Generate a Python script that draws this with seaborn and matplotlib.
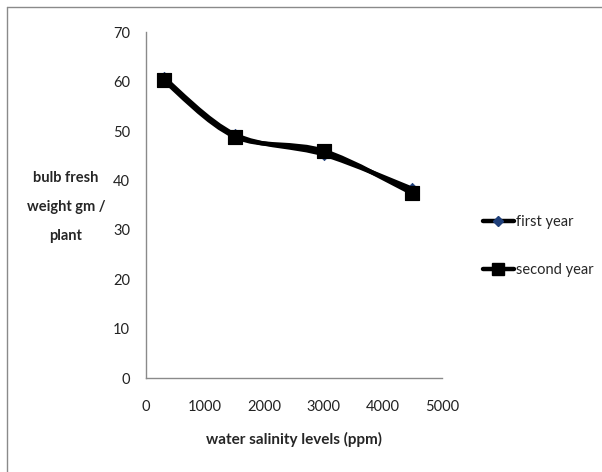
import numpy as np
import pandas as pd
import matplotlib
matplotlib.use("Agg")
import matplotlib.pyplot as plt
from matplotlib.path import Path
from matplotlib.patches import PathPatch
from matplotlib.lines import Line2D
import seaborn as sns

# ---- data ----
salinity = [300, 1500, 3000, 4500]
first_year = [60.8, 49.3, 45.3, 38.3]
second_year = [60.3, 48.9, 46.0, 37.4]
series_names = ["first year", "second year"]
x_ticks = [0, 1000, 2000, 3000, 4000, 5000]
y_ticks = [0, 10, 20, 30, 40, 50, 60, 70]

df = pd.DataFrame({
    "salinity": salinity * 2,
    "weight": first_year + second_year,
    "series": [series_names[0]] * len(salinity) + [series_names[1]] * len(salinity),
})

sns.set_style("white")
plt.rcParams["font.family"] = ["Lato", "DejaVu Sans"]

fig = plt.figure(figsize=(6.02, 4.72), dpi=100)
ax = fig.add_axes([146 / 602, 1 - 378 / 472, 296 / 602, (378 - 32.4) / 472])


def smooth_path(xs, ys):
    pts = np.column_stack([xs, ys]).astype(float)
    n = len(pts)
    verts = [pts[0]]
    codes = [Path.MOVETO]
    for i in range(n - 1):
        p0 = pts[i - 1] if i > 0 else pts[i]
        p1 = pts[i]
        p2 = pts[i + 1]
        p3 = pts[i + 2] if i + 2 < n else pts[i + 1]
        c1 = p1 + (p2 - p0) / 6.0
        c2 = p2 - (p3 - p1) / 6.0
        verts += [c1, c2, p2]
        codes += [Path.CURVE4] * 3
    return Path(verts, codes)


for name in series_names:
    sub = df[df["series"] == name]
    ax.add_patch(PathPatch(smooth_path(sub["salinity"].values, sub["weight"].values),
                           fill=False, edgecolor="black", lw=3.2, capstyle="round",
                           joinstyle="round", zorder=2))

sns.scatterplot(data=df[df["series"] == series_names[0]], x="salinity", y="weight",
                marker="D", s=40, color="#1f3f7a", edgecolor="#1f3f7a", ax=ax, zorder=3,
                legend=False)
sns.scatterplot(data=df[df["series"] == series_names[1]], x="salinity", y="weight",
                marker="s", s=110, color="black", edgecolor="black", ax=ax, zorder=4,
                legend=False)

ax.set_xlim(0, 5000)
ax.set_ylim(0, 70)
ax.set_xticks(x_ticks)
ax.set_yticks(y_ticks)
ax.tick_params(axis="both", direction="out", length=4.5, width=1, color="#8a8a8a",
               labelsize=10.5, labelcolor="#222222", pad=7)
ax.tick_params(axis="x", pad=11)
for s in ["top", "right"]:
    ax.spines[s].set_visible(False)
for s in ["left", "bottom"]:
    ax.spines[s].set_color("#8a8a8a")
    ax.spines[s].set_linewidth(1)
ax.grid(False)

ax.set_xlabel("water salinity levels (ppm)", fontsize=11, fontweight="bold", labelpad=13)
ax.set_ylabel("")
fig.text(66 / 602, 1 - 207 / 472, "bulb fresh\nweight gm /\nplant", ha="center", va="center",
         fontsize=10.5, fontweight="bold", linespacing=2.4)

handles = [
    Line2D([], [], color="black", lw=3.2, marker="D", markersize=5,
           markerfacecolor="#1f3f7a", markeredgecolor="#1f3f7a"),
    Line2D([], [], color="black", lw=3.2, marker="s", markersize=9,
           markerfacecolor="black", markeredgecolor="black"),
]
fig.legend(handles, series_names, loc="center left", bbox_to_anchor=(483 / 602, 1 - 246 / 472),
           frameon=False, fontsize=10.5, handlelength=2.1, handletextpad=0.15, labelspacing=2.3,
           borderpad=0, borderaxespad=0)

fig.add_artist(Line2D([7 / 602, 7 / 602], [0, 1 - 7 / 472], color="#8a8a8a", lw=1,
                      transform=fig.transFigure))
fig.add_artist(Line2D([7 / 602, 1], [1 - 7 / 472, 1 - 7 / 472], color="#8a8a8a", lw=1,
                      transform=fig.transFigure))

fig.savefig("out.png", dpi=100, facecolor="white")
